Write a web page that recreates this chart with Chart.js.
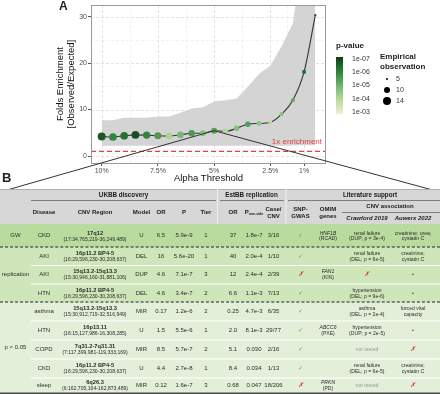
<!DOCTYPE html>
<html><head><meta charset="utf-8">
<script src="https://cdn.jsdelivr.net/npm/chart.js@4.4.1/dist/chart.umd.min.js"></script>
<style>
html,body{margin:0;padding:0;background:#fff}
body{width:440px;height:394px;position:relative;overflow:hidden;font-family:"Liberation Sans",Arial,sans-serif;color:#222}
#c{position:absolute;left:0;top:0;width:440px;height:394px;z-index:1}
.abs{position:absolute;white-space:nowrap;z-index:3}
#tbl{position:absolute;left:0;top:0;width:880px;height:788px;transform:scale(0.5);transform-origin:0 0;z-index:2}
.cell{position:absolute;display:flex;flex-direction:column;align-items:center;justify-content:center;text-align:center;white-space:nowrap;line-height:1.12;font-size:12px;color:#2b2b2b}
.sm{font-size:10.2px}
.hd{font-weight:bold;color:#1a1a1a;font-size:12px}
.it{font-style:italic}
.ok{color:#6f9c5c;font-size:12px}
.no{color:#d8322c;font-size:13px;font-style:italic}
.nt{color:#9a9a9a;font-size:10.4px}
</style></head><body>
<canvas id="c" width="440" height="394"></canvas>
<div id="tbl"></div>
<div class="abs" style="left:59px;top:0px;font-size:12px;line-height:13px;font-weight:bold">A</div>
<div class="abs" style="left:2px;top:171px;font-size:13px;line-height:14px;font-weight:bold">B</div>
<div id="leg"></div>
<script>
// ---------------- Panel A data ----------------
const alphas = [10,9.5,9,8.5,8,7.5,7,6.5,6,5.5,5,4.5,4,3.5,3,2.5,2,1.5,1,0.5];
const folds  = [4.2,4.1,4.35,4.55,4.5,4.35,4.3,4.55,4.9,4.9,5.45,5.3,5.95,6.85,7.0,7.2,9.0,12.0,18.1,30.3];
const counts = [14,13,13,13,12,11,10,10,10,9,9,8,8,8,7,6,6,6,6,5];
const pLog   = [-6.6,-5.9,-6.2,-6.7,-5.9,-5.5,-4.2,-4.9,-5.5,-4.7,-5.4,-4.1,-4.7,-5.4,-4.6,-4.0,-4.6,-5.2,-6.2,-6.6];
const ribbonUpper = [7.7,7.7,8.25,8.25,8.25,8.5,8.5,9.3,10.2,10.5,11.75,12.0,12.4,14.9,17.7,19.4,23.6,28.5,45,60];
const ribbonLower = [2.2,2.2,2.2,2.2,2.2,2.2,2.2,2.2,2.2,2.2,2.2,2.2,2.2,2.2,2.2,2.2,2.2,2.25,2.3,2.3];
const refLevel = 1;
const xTickVals = [10,7.5,5,2.5,1];
const xTickLabels = ['10%','7.5%','5%','2.5%','1%'];
const xMinorVals = [8.75,6.25,3.75,1.75];
const yTickVals = [0,10,20,30];
const yMinorVals = [5,15,25];
const pLegendVals = [-7,-6,-5,-4,-3];
const pLegendLabels = ['1e-07','1e-06','1e-05','1e-04','1e-03'];
const sizeLegendVals = [5,10,14];
const zoomAlpha = 5;

// ---------------- Panel B data ----------------
const groupNames = ['GW','replication','p < 0.05'];
const rowGroup = [0,1,1,1,2,2,2,2,2];
const diseases = ['CKD','AKI','AKI','HTN','asthma','HTN','COPD','CKD','sleep'];
const regions = ['17q12','16p11.2 BP4-5','15q13.2-15q13.3','16p11.2 BP4-5','15q13.2-15q13.3','16p13.11','7q31.2-7q31.31','16p11.2 BP4-5','6q26.3'];
const coords = ['17:34,765,219-36,249,489','16:29,596,230-30,208,637','15:30,946,160-31,881,106','16:29,596,230-30,208,637','15:30,912,719-32,516,949','16:15,127,986-16,308,285','7:117,399,981-119,333,169','16:29,596,230-30,208,637','6:162,705,164-162,873,489'];
const models = ['U','DEL','DUP','DEL','MIR','U','MIR','U','MIR'];
const ukbbOR = ['6.5','16','4.6','4.6','0.17','1.5','8.5','4.4','0.12'];
const ukbbP = ['5.9e-9','5.6e-20','7.1e-7','3.4e-7','1.2e-6','5.5e-6','5.7e-7','2.7e-8','1.6e-7'];
const tiers = ['1','1','3','2','2','1','2','1','3'];
const estOR = ['37','40','12','6.6','0.25','2.0','5.1','8.4','0.68'];
const estP = ['1.8e-7','2.0e-4','2.4e-4','1.1e-3','4.7e-3','8.1e-3','0.030','0.034','0.047'];
const caseCNV = ['3/16','1/10','2/39','7/13','6/35','29/77','2/16','1/13','18/206'];
const snpGWAS = [true,true,false,true,true,true,true,true,false];
const omimGenes = ['HNF1B','','FAN1','','','ABCC6','','','PRKN'];
const omimDiseases = ['RCAD','','KIN','','','PXE','','','PD'];
const crawford = [['renal failure','(DUP; p = 3e-4)'],['renal failure','(DEL; p = 6e-5)'],'x',['hypertension','(DEL; p = 9e-6)'],['asthma','(DEL; p = 2e-4)'],['hypertension','(DUP; p = 2e-5)'],'not tested',['renal failure','(DEL; p = 6e-5)'],'not tested'];
const auwerx = [['creatinine; urea;','cystatin C'],['creatinine;','cystatin C'],'•','•',['forced vital','capacity'],'•','x',['creatinine;','cystatin C'],'x'];

// ---------------- helpers (styling) ----------------
const FONT = '"Liberation Sans", Arial, sans-serif';
const cStops = ['#0f3b15','#2e7f38','#70b36c','#b9da9d','#edf2d6']; // -7 .. -3
function hex(h){return [1,3,5].map(i=>parseInt(h.substr(i,2),16));}
function pColor(v){
  let t = Math.min(4, Math.max(0, -3 - v)); // 0 at -3, 4 at -7
  t = 4 - t; // index from -7 side
  const i = Math.min(3, Math.floor(t)), f = t - i;
  const a = hex(cStops[i]), b = hex(cStops[i+1]);
  return 'rgb(' + a.map((x,k)=>Math.round(x+(b[k]-x)*f)).join(',') + ')';
}
function radius(n){ return 1.15 + 2.85*Math.sqrt(Math.max(0,(n-5))/9); }

const xMin = 0.025, xMax = 10.475;
const zi = alphas.indexOf(zoomAlpha);

const deco = {
  id:'deco',
  beforeDraw(chart){
    const {ctx, chartArea:a, scales:{x,y}} = chart;
    ctx.save();
    ctx.setLineDash([3,2]); ctx.lineWidth = 1;
    const hl=(v,c)=>{const p=Math.round(y.getPixelForValue(v))+0.5;ctx.strokeStyle=c;ctx.beginPath();ctx.moveTo(a.left,p);ctx.lineTo(a.right,p);ctx.stroke();};
    const vl=(v,c)=>{const p=Math.round(x.getPixelForValue(v))+0.5;ctx.strokeStyle=c;ctx.beginPath();ctx.moveTo(p,a.top);ctx.lineTo(p,a.bottom);ctx.stroke();};
    yMinorVals.forEach(v=>hl(v,'#f1f1f1')); xMinorVals.forEach(v=>vl(v,'#f1f1f1'));
    yTickVals.forEach(v=>hl(v,'#e2e2e2')); xTickVals.forEach(v=>vl(v,'#e2e2e2'));
    ctx.restore();
  },
  afterDatasetsDraw(chart){
    const {ctx, chartArea:a, scales:{y}} = chart;
    ctx.save();
    ctx.fillStyle = '#e4413b'; ctx.font = '8px ' + FONT; ctx.textAlign='right'; ctx.textBaseline='middle';
    ctx.fillText('1x enrichment', a.right-4, y.getPixelForValue(refLevel)-9.5);
    ctx.restore();
  },
  afterDraw(chart){
    const {ctx, chartArea:a, scales:{x,y}} = chart;
    ctx.save();
    ctx.strokeStyle='#9a9a9a'; ctx.lineWidth=1;
    ctx.strokeRect(Math.round(a.left)+0.5, Math.round(a.top)+0.5, Math.round(a.right-a.left)-1, Math.round(a.bottom-a.top));
    const px = x.getPixelForValue(alphas[zi]), py = y.getPixelForValue(folds[zi]);
    ctx.strokeStyle='#333'; ctx.lineWidth=1;
    ctx.beginPath(); ctx.moveTo(px,py); ctx.lineTo(0,192); ctx.stroke();
    ctx.beginPath(); ctx.moveTo(px,py); ctx.lineTo(440,192); ctx.stroke();
    ctx.restore();
  }
};

new Chart(document.getElementById('c'), {
  type:'line',
  data:{datasets:[
    {data:alphas.map((a,i)=>({x:a,y:folds[i]})), borderColor:'#333', borderWidth:1.1,
     pointRadius:counts.map(radius), pointBackgroundColor:pLog.map(pColor), pointBorderWidth:0,
     pointBorderColor:'rgba(0,0,0,0)', cubicInterpolationMode:'monotone', fill:false},
    {data:[{x:xMax,y:refLevel},{x:xMin,y:refLevel}], borderColor:'#e4413b', borderWidth:1.3, borderDash:[5,3], pointRadius:0, fill:false},
    {data:alphas.map((a,i)=>({x:a,y:ribbonUpper[i]})), borderWidth:0, borderColor:'rgba(0,0,0,0)', backgroundColor:'#d4d4d4', pointRadius:0, fill:'+1'},
    {data:alphas.map((a,i)=>({x:a,y:ribbonLower[i]})), borderWidth:0, borderColor:'rgba(0,0,0,0)', pointRadius:0, fill:false}
  ]},
  options:{
    responsive:false, animation:false, devicePixelRatio:1,
    layout:{padding:{left:0,right:114,top:1,bottom:204}},
    plugins:{legend:{display:false}, tooltip:{enabled:false}},
    scales:{
      x:{type:'linear', reverse:true, min:xMin, max:xMax,
        afterBuildTicks:s=>{s.ticks=xTickVals.concat(xMinorVals).sort((p,q)=>q-p).map(v=>({value:v}));},
        afterFit:s=>{s.height=27;},
        grid:{drawOnChartArea:false, drawTicks:true, tickLength:3, tickWidth:1,
          tickColor:c=>(c.tick && xTickVals.includes(c.tick.value))?'#555':'rgba(0,0,0,0)'},
        border:{display:false},
        ticks:{autoSkip:false, maxRotation:0, minRotation:0, padding:1, color:'#4d4d4d', font:{family:FONT,size:7},
          callback:v=>{const k=xTickVals.indexOf(v);return k>=0?xTickLabels[k]:'';}},
        title:{display:true, text:'Alpha Threshold', color:'#111', font:{family:FONT,size:9.5,lineHeight:1.15}, padding:{top:0,bottom:6.5}}
      },
      y:{type:'linear', position:'left', min:-1.5, max:32.45,
        afterBuildTicks:s=>{s.ticks=yTickVals.concat(yMinorVals).sort((p,q)=>p-q).map(v=>({value:v}));},
        afterFit:s=>{s.width=91;},
        grid:{drawOnChartArea:false, drawTicks:true, tickLength:3, tickWidth:1,
          tickColor:c=>(c.tick && yTickVals.includes(c.tick.value))?'#555':'rgba(0,0,0,0)'},
        border:{display:false},
        ticks:{padding:1, color:'#4d4d4d', font:{family:FONT,size:7},
          callback:v=>yTickVals.includes(v)?String(v):''},
        title:{display:true, text:['Folds Enrichment','[Observed/Expected]'], color:'#111', font:{family:FONT,size:9.5,lineHeight:1.15}, padding:{top:54.5,bottom:0}}
      }
    }
  },
  plugins:[deco]
});

// ---------------- Legend (HTML) ----------------
const L = document.getElementById('leg');
function txt(x,yc,s,size,css){const d=document.createElement('div');d.className='abs';d.style.left=x+'px';d.style.top=(yc-size*0.6)+'px';d.style.fontSize=size+'px';d.style.lineHeight=(size*1.2)+'px';d.innerHTML=s;if(css)d.style.cssText+=css;L.appendChild(d);return d;}
txt(336,46,'p-value',8,'font-weight:bold');
const cb=document.createElement('div');cb.className='abs';
cb.style.cssText+='left:336px;top:57px;width:7px;height:57px;background:linear-gradient(to bottom,'+[-7.15,-6,-5,-4,-2.85].map(v=>pColor(v)).join(',')+')';
L.appendChild(cb);
pLegendVals.forEach((v,i)=>{const yc=59+(-7-v)*-13.25; txt(352,yc,pLegendLabels[i],7,'color:#333');});
txt(380,57,'Empirical',8,'font-weight:bold');
txt(380,66.5,'observation',8,'font-weight:bold');
sizeLegendVals.forEach((n,i)=>{const yc=[79,90,101][i];const r=radius(n);
  const d=document.createElement('div');d.className='abs';d.style.cssText+='left:'+(387-r)+'px;top:'+(yc-r)+'px;width:'+(2*r)+'px;height:'+(2*r)+'px;border-radius:50%;background:#000';L.appendChild(d);
  txt(396,yc,String(n),7,'color:#333');});

// ---------------- Table (HTML, drawn at 2x then scaled) ----------------
const S=2, T=document.getElementById('tbl');
function el(x0,x1,y0,y1,css){const d=document.createElement('div');d.style.position='absolute';d.style.left=x0*S+'px';d.style.width=(x1-x0)*S+'px';d.style.top=y0*S+'px';d.style.height=(y1-y0)*S+'px';if(css)d.style.cssText+=css;T.appendChild(d);return d;}
function cell(x0,x1,y0,y1,html,cls){const d=el(x0,x1,y0,y1);d.className='cell '+(cls||'');d.innerHTML=html;return d;}
const C={grp:[0,31],dis:[31,57],cnv:[57,133],mod:[133,150],or:[150,172],p:[172,196],tier:[196,216],eor:[220,246],ep:[246,262],cc:[262,285],snp:[285,316],omim:[316,340],cra:[340,394],auw:[392,434]};
const rowEdges=[224,247,265,283.5,302,320.5,339.5,358.5,377.5,393];
const secColors=['#b9dc9e','#cfe6ba','#e4efd9'];
// header
el(0,440,189,224,'background:#d7d7d7;border-top:2px solid #b0b0b0;box-sizing:border-box');
el(217,218,189,224,'background:#efefef');
el(285.5,286.5,189,224,'background:#efefef');
cell(31,216,189,201,'UKBB discovery','hd').style.fontSize='12.6px';
cell(218,285,189,201,'EstBB replication','hd').style.fontSize='12.6px';
cell(300,440,189,201,'Literature support','hd').style.fontSize='12.6px';
el(31,216,200.5,201.2,'background:#222');
el(220,284,200.5,201.2,'background:#222');
el(288,440,200.5,201.2,'background:#222');
const hy0=201,hy1=224;
cell(...C.dis,hy0,hy1,'Disease','hd');
cell(...C.cnv,hy0,hy1,'CNV Region','hd');
cell(...C.mod,hy0,hy1,'Model','hd');
cell(...C.or,hy0,hy1,'OR','hd');
cell(...C.p,hy0,hy1,'P','hd');
cell(...C.tier,hy0,hy1,'Tier','hd');
cell(...C.eor,hy0,hy1,'OR','hd');
cell(...C.ep,hy0,hy1,'<span>P<sub style="font-size:7px">one-side</sub></span>','hd');
cell(...C.cc,hy0,hy1,'Case/<br>CNV','hd');
cell(...C.snp,hy0,hy1,'SNP-<br>GWAS','hd');
cell(...C.omim,hy0,hy1,'OMIM<br>genes','hd');
cell(340,440,201,212,'CNV association','hd');
el(342,440,212,212.7,'background:#222');
cell(...C.cra,212.5,224,'Crawford 2019','hd it');
cell(...C.auw,212.5,224,'Auwerx 2022','hd it');
// rows
for(let i=0;i<diseases.length;i++){
  const y0=rowEdges[i], y1=rowEdges[i+1], g=rowGroup[i];
  const first = i===0 || rowGroup[i-1]!==g;
  el(31,440,y0,y1,'background:'+secColors[g]+(first?'':';border-top:2px solid #fff;box-sizing:border-box'));
  cell(...C.dis,y0,y1,diseases[i]);
  cell(...C.cnv,y0,y1,'<b style="font-size:11.4px">'+regions[i]+'</b><span class="sm">('+coords[i]+')</span>');
  cell(...C.mod,y0,y1,models[i]);
  cell(...C.or,y0,y1,ukbbOR[i]);
  cell(...C.p,y0,y1,ukbbP[i]);
  cell(...C.tier,y0,y1,tiers[i]);
  cell(...C.eor,y0,y1,estOR[i]);
  cell(...C.ep,y0,y1,estP[i]);
  cell(...C.cc,y0,y1,caseCNV[i]);
  cell(...C.snp,y0,y1,snpGWAS[i]?'<span class="ok">✓</span>':'<span class="no">✗</span>');
  if(omimGenes[i]) cell(...C.omim,y0,y1,'<span class="sm it">'+omimGenes[i]+'</span><span class="sm">('+omimDiseases[i]+')</span>');
  const cr=crawford[i];
  cell(...C.cra,y0,y1, Array.isArray(cr)?'<span class="sm">'+cr[0]+'</span><span class="sm">'+cr[1]+'</span>':(cr==='x'?'<span class="no">✗</span>':'<span class="nt">'+cr+'</span>'));
  const au=auwerx[i];
  cell(...C.auw,y0,y1, Array.isArray(au)?'<span class="sm">'+au[0]+'</span><span class="sm">'+au[1]+'</span>':(au==='x'?'<span class="no">✗</span>':'<span style="font-size:10px">'+au+'</span>'));
}
// group column
const gRanges=[[224,247],[247,302],[302,393]];
gRanges.forEach((r,g)=>{el(0,31,r[0],r[1],'background:'+secColors[g]); cell(0,31,r[0],r[1],groupNames[g]);});
// dashed section separators and bottom rule
el(0,440,246.5,247.5,'border-top:2px dashed #222;box-sizing:border-box');
el(0,440,301.5,302.5,'border-top:2px dashed #222;box-sizing:border-box');
el(0,440,392.5,394,'background:#4a4a4a');
</script>
</body></html>
